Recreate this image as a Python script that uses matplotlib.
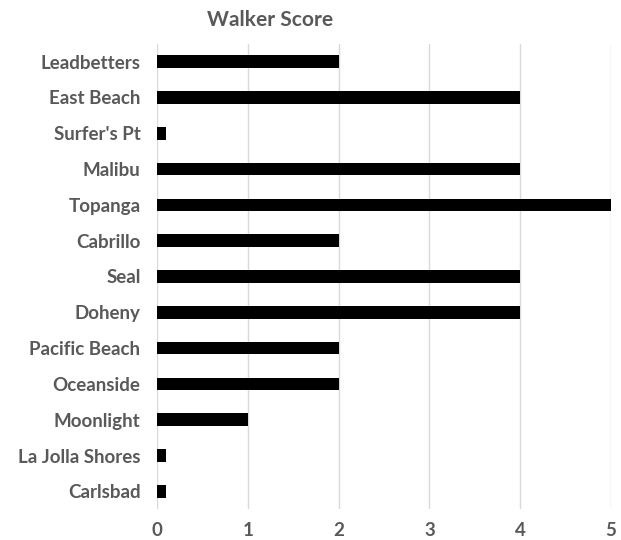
import matplotlib.pyplot as plt

beaches = ["Leadbetters", "East Beach", "Surfer's Pt", "Malibu", "Topanga", "Cabrillo",
           "Seal", "Doheny", "Pacific Beach", "Oceanside", "Moonlight", "La Jolla Shores", "Carlsbad"]
scores = [2, 4, 0.1, 4, 5, 2, 4, 4, 2, 2, 1, 0.1, 0.1]
xticks = [0, 1, 2, 3, 4, 5]

plt.rcParams['font.family'] = ['Lato', 'DejaVu Sans']
gray = "#595959"

fig = plt.figure(figsize=(6.21, 5.4), dpi=100)
ax = fig.add_axes([0.253, 0.057, 0.731, 0.862])

pos = list(range(len(beaches)))[::-1]
ax.barh(pos, scores, height=0.35, color="black", zorder=3)
ax.set_yticks(pos)
ax.set_yticklabels(beaches)
ax.set_xticks(xticks)
ax.set_xlim(0, 5)
ax.set_ylim(-0.5, len(beaches) - 0.5)

ax.grid(axis="x", color="#d9d9d9", linewidth=1, zorder=0)
for s in ax.spines.values():
    s.set_visible(False)
ax.tick_params(length=0, colors=gray, labelsize=13.5)
ax.tick_params(axis="y", pad=12)
ax.tick_params(axis="x", pad=9)
for lbl in ax.get_xticklabels() + ax.get_yticklabels():
    lbl.set_fontweight("bold")

fig.suptitle("Walker Score", x=0.435, y=0.982, fontsize=15, fontweight="bold", color=gray)
fig.savefig("out.png", dpi=100)
